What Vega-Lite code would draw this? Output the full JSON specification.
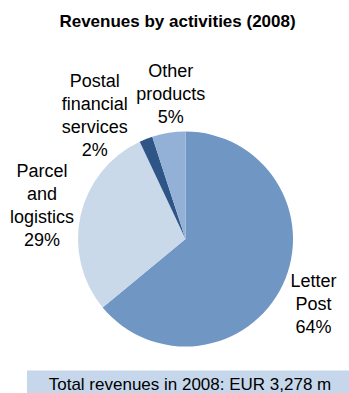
{
  "$schema": "https://vega.github.io/schema/vega-lite/v6.json",
  "padding": {"left": 6, "top": 12.5, "right": 0, "bottom": 0},
  "background": "white",
  "config": {"view": {"stroke": null}, "font": "Liberation Sans"},
  "title": {"text": "Revenues by activities (2008)", "font": "Liberation Sans", "fontSize": 17, "fontWeight": "bold", "color": "#000000", "anchor": "middle", "dx": 0, "offset": 19.5},
  "spacing": 0,
  "vconcat": [
    {
      "width": 317,
      "height": 263,
      "data": {"values": [
        {"category": "Letter Post", "label": "Letter\nPost\n64%", "value": 64, "order": 1},
        {"category": "Parcel and logistics", "label": "Parcel\nand\nlogistics\n29%", "value": 29, "order": 2},
        {"category": "Postal financial services", "label": "Postal\nfinancial\nservices\n2%", "value": 2, "order": 3},
        {"category": "Other products", "label": "Other\nproducts\n5%", "value": 5, "order": 4}
      ]},
      "encoding": {
        "theta": {"field": "value", "type": "quantitative", "stack": true},
        "order": {"field": "order", "type": "quantitative"}
      },
      "layer": [
        {
          "mark": {"type": "arc", "outerRadius": 107.5},
          "encoding": {
            "color": {"field": "category", "type": "nominal", "legend": null,
              "scale": {"domain": ["Letter Post", "Parcel and logistics", "Postal financial services", "Other products"],
                        "range": ["#7096C4", "#C9D9EA", "#2E5586", "#93B1D6"]}}
          }
        },
        {
          "mark": {"type": "text", "radius": 146, "fontSize": 18, "lineHeight": 23, "lineBreak": "\n", "baseline": "middle", "align": "center", "color": "#000000", "dx": -4, "dy": -19},
          "encoding": {
            "detail": {"field": "category"},
            "text": {"field": "label", "condition": {"test": "datum.category !== 'Letter Post'", "value": ""}}
          }
        },
        {
          "mark": {"type": "text", "radius": 146, "fontSize": 18, "lineHeight": 23, "lineBreak": "\n", "baseline": "middle", "align": "center", "color": "#000000", "dx": -1, "dy": -35},
          "encoding": {
            "detail": {"field": "category"},
            "text": {"field": "label", "condition": {"test": "datum.category !== 'Parcel and logistics'", "value": ""}}
          }
        },
        {
          "mark": {"type": "text", "radius": 146, "fontSize": 18, "lineHeight": 23, "lineBreak": "\n", "baseline": "middle", "align": "center", "color": "#000000", "dx": -37, "dy": -21},
          "encoding": {
            "detail": {"field": "category"},
            "text": {"field": "label", "condition": {"test": "datum.category !== 'Postal financial services'", "value": ""}}
          }
        },
        {
          "mark": {"type": "text", "radius": 146, "fontSize": 18, "lineHeight": 23, "lineBreak": "\n", "baseline": "middle", "align": "center", "color": "#000000", "dx": 8, "dy": -23},
          "encoding": {
            "detail": {"field": "category"},
            "text": {"field": "label", "condition": {"test": "datum.category !== 'Other products'", "value": ""}}
          }
        }
      ]
    },
    {
      "width": 322,
      "height": 23,
      "view": {"fill": "#C6D7EB", "stroke": null},
      "data": {"values": [{"note": "Total revenues in 2008: EUR 3,278 m"}]},
      "mark": {"type": "text", "fontSize": 17, "color": "#000000", "baseline": "middle", "align": "center", "dx": 2, "dy": 3},
      "encoding": {"text": {"field": "note"}}
    }
  ]
}
